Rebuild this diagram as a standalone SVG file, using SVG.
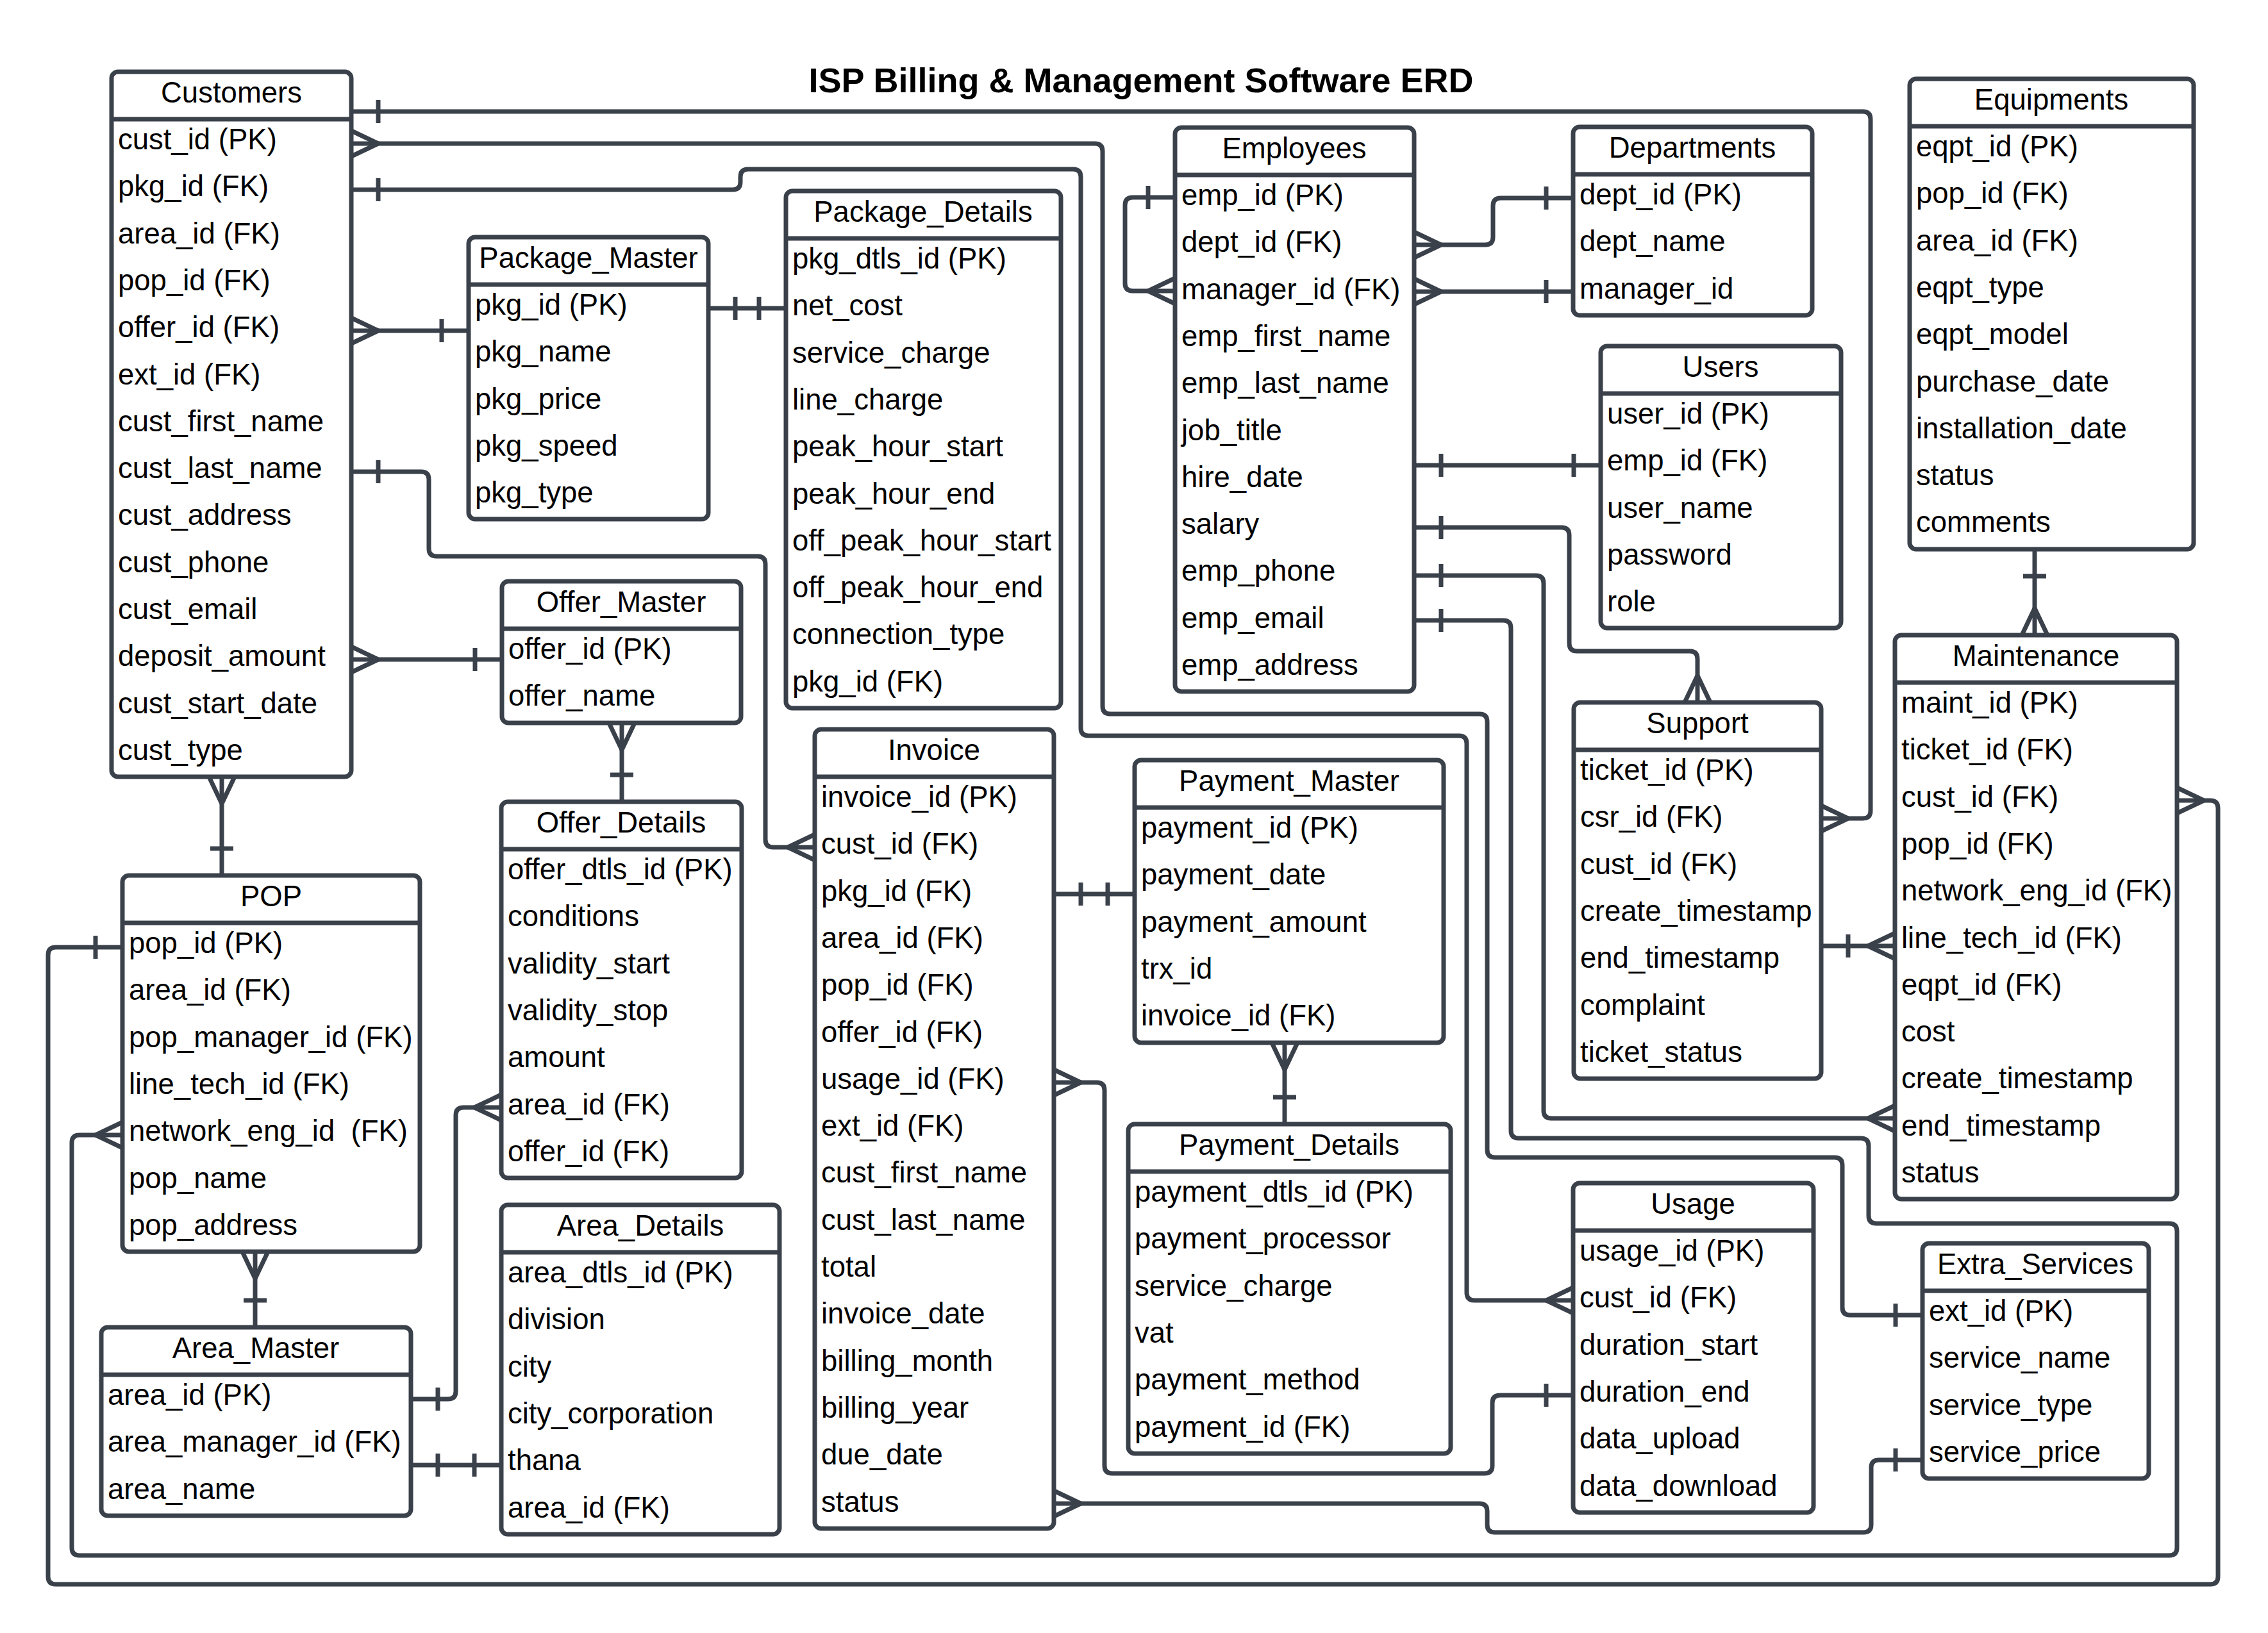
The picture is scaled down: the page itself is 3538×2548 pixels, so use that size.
<svg xmlns="http://www.w3.org/2000/svg" width="3538" height="2548" viewBox="0 0 3538 2548">
<style>
.box{fill:#fff;stroke:#3a414a;stroke-width:7}
.dv{stroke:#3a414a;stroke-width:7}
.ln{fill:none;stroke:#3a414a;stroke-width:7;stroke-linejoin:round}
.cf{marker-start:url(#many)}
.co{marker-start:url(#one)}
.ef{marker-end:url(#many)}
.eo{marker-end:url(#one)}
text{font-family:"Liberation Sans",Arial,sans-serif;font-size:45.5px;fill:#000}
.hd{text-anchor:middle}
.title{font-weight:bold;font-size:54px;text-anchor:middle}
</style>
<defs>
<marker id="many" viewBox="-60 -30 70 60" refX="0" refY="0" markerWidth="70" markerHeight="60" markerUnits="userSpaceOnUse" orient="auto-start-reverse" overflow="visible">
<path d="M0,-20 L-42,0 M0,20 L-42,0" fill="none" stroke="#3a414a" stroke-width="7"/>
</marker>
<marker id="one" viewBox="-60 -30 70 60" refX="0" refY="0" markerWidth="70" markerHeight="60" markerUnits="userSpaceOnUse" orient="auto-start-reverse" overflow="visible">
<path d="M-42,-18 V18" fill="none" stroke="#3a414a" stroke-width="7"/>
</marker>
</defs>
<rect x="0" y="0" width="3538" height="2548" fill="#fff"/>
<text class="title" x="1780" y="144">ISP Billing &amp; Management Software ERD</text>

<g id="connectors">
<path class="ln co ef" d="M548,174 H2906 Q2918,174 2918,186 V1265 Q2918,1277 2906,1277 H2841"/>
<path class="ln cf eo" d="M548,224 H1708 Q1720,224 1720,236 V1102 Q1720,1114 1732,1114 H2308 Q2320,1114 2320,1126 V1794 Q2320,1806 2332,1806 H2862 Q2874,1806 2874,1818 V2040 Q2874,2052 2886,2052 H2999"/>
<path class="ln co ef" d="M548,296 H1143 Q1155,296 1155,284 V276 Q1155,264 1167,264 H1674 Q1686,264 1686,276 V1136 Q1686,1148 1698,1148 H2276 Q2288,1148 2288,1160 V2017 Q2288,2029 2300,2029 H2454"/>
<path class="ln cf eo" d="M548,516 H731"/>
<path class="ln co ef" d="M548,736 H657 Q669,736 669,748 V856 Q669,868 681,868 H1182 Q1194,868 1194,880 V1310 Q1194,1322 1206,1322 H1271"/>
<path class="ln cf eo" d="M548,1029 H783"/>
<path class="ln cf eo" d="M970,1128 V1251"/>
<path class="ln cf eo" d="M346,1212 V1366"/>
<path class="ln cf eo" d="M398,1953 V2071"/>
<path class="ln co ef" d="M641,2183 H699 Q711,2183 711,2171 V1740 Q711,1728 723,1728 H782"/>
<path class="ln co eo" d="M641,2286 H782"/>
<path class="ln co eo" d="M1105,481 H1226"/>
<path class="ln co ef" d="M1833,308 H1767 Q1755,308 1755,320 V442 Q1755,454 1767,454 H1833"/>
<path class="ln cf eo" d="M2206,382 H2317 Q2329,382 2329,370 V321 Q2329,309 2341,309 H2454"/>
<path class="ln cf eo" d="M2206,455 H2454"/>
<path class="ln co eo" d="M2206,726 H2497"/>
<path class="ln co ef" d="M2206,823 H2436 Q2448,823 2448,835 V1004 Q2448,1016 2460,1016 H2636 Q2648,1016 2648,1028 V1096"/>
<path class="ln co ef" d="M2206,898 H2396 Q2408,898 2408,910 V1733 Q2408,1745 2420,1745 H2956"/>
<path class="ln co ef" d="M2206,968 H2345 Q2357,968 2357,980 V1764 Q2357,1776 2369,1776 H2903 Q2915,1776 2915,1788 V1897 Q2915,1909 2927,1909 H3384 Q3396,1909 3396,1921 V2415 Q3396,2427 3384,2427 H124 Q112,2427 112,2415 V1783 Q112,1771 124,1771 H191"/>
<path class="ln cf eo" d="M3396,1249 H3448 Q3460,1249 3460,1261 V2460 Q3460,2472 3448,2472 H87 Q75,2472 75,2460 V1490 Q75,1478 87,1478 H191"/>
<path class="ln co ef" d="M3174,857 V991"/>
<path class="ln co ef" d="M2841,1476 H2956"/>
<path class="ln co eo" d="M1644,1395 H1770"/>
<path class="ln cf eo" d="M2004,1627 V1754"/>
<path class="ln cf eo" d="M1644,1689 H1711 Q1723,1689 1723,1701 V2287 Q1723,2299 1735,2299 H2316 Q2328,2299 2328,2287 V2189 Q2328,2177 2340,2177 H2454"/>
<path class="ln cf eo" d="M1644,2346 H2308 Q2320,2346 2320,2358 V2379 Q2320,2391 2332,2391 H2907 Q2919,2391 2919,2379 V2290 Q2919,2278 2931,2278 H2999"/>
</g>

<g id="customers">
<rect class="box" x="174" y="112" width="374" height="1100" rx="10"/>
<line class="dv" x1="174" y1="186" x2="548" y2="186"/>
<text class="hd" x="361" y="160">Customers</text>
<text x="184" y="233">cust_id (PK)</text>
<text x="184" y="306">pkg_id (FK)</text>
<text x="184" y="380">area_id (FK)</text>
<text x="184" y="453">pop_id (FK)</text>
<text x="184" y="526">offer_id (FK)</text>
<text x="184" y="600">ext_id (FK)</text>
<text x="184" y="673">cust_first_name</text>
<text x="184" y="746">cust_last_name</text>
<text x="184" y="819">cust_address</text>
<text x="184" y="893">cust_phone</text>
<text x="184" y="966">cust_email</text>
<text x="184" y="1039">deposit_amount</text>
<text x="184" y="1113">cust_start_date</text>
<text x="184" y="1186">cust_type</text>
</g>

<g id="package_master">
<rect class="box" x="731" y="370" width="374" height="440" rx="10"/>
<line class="dv" x1="731" y1="444" x2="1105" y2="444"/>
<text class="hd" x="918" y="418">Package_Master</text>
<text x="741" y="491">pkg_id (PK)</text>
<text x="741" y="564">pkg_name</text>
<text x="741" y="638">pkg_price</text>
<text x="741" y="711">pkg_speed</text>
<text x="741" y="784">pkg_type</text>
</g>

<g id="package_details">
<rect class="box" x="1226" y="298" width="429" height="807" rx="10"/>
<line class="dv" x1="1226" y1="372" x2="1655" y2="372"/>
<text class="hd" x="1440" y="346">Package_Details</text>
<text x="1236" y="419">pkg_dtls_id (PK)</text>
<text x="1236" y="492">net_cost</text>
<text x="1236" y="566">service_charge</text>
<text x="1236" y="639">line_charge</text>
<text x="1236" y="712">peak_hour_start</text>
<text x="1236" y="786">peak_hour_end</text>
<text x="1236" y="859">off_peak_hour_start</text>
<text x="1236" y="932">off_peak_hour_end</text>
<text x="1236" y="1005">connection_type</text>
<text x="1236" y="1079">pkg_id (FK)</text>
</g>

<g id="employees">
<rect class="box" x="1833" y="199" width="373" height="880" rx="10"/>
<line class="dv" x1="1833" y1="273" x2="2206" y2="273"/>
<text class="hd" x="2019" y="247">Employees</text>
<text x="1843" y="320">emp_id (PK)</text>
<text x="1843" y="393">dept_id (FK)</text>
<text x="1843" y="467">manager_id (FK)</text>
<text x="1843" y="540">emp_first_name</text>
<text x="1843" y="613">emp_last_name</text>
<text x="1843" y="687">job_title</text>
<text x="1843" y="760">hire_date</text>
<text x="1843" y="833">salary</text>
<text x="1843" y="906">emp_phone</text>
<text x="1843" y="980">emp_email</text>
<text x="1843" y="1053">emp_address</text>
</g>

<g id="departments">
<rect class="box" x="2454" y="198" width="373" height="294" rx="10"/>
<line class="dv" x1="2454" y1="272" x2="2827" y2="272"/>
<text class="hd" x="2640" y="246">Departments</text>
<text x="2464" y="319">dept_id (PK)</text>
<text x="2464" y="392">dept_name</text>
<text x="2464" y="466">manager_id</text>
</g>

<g id="users">
<rect class="box" x="2497" y="540" width="375" height="440" rx="10"/>
<line class="dv" x1="2497" y1="614" x2="2872" y2="614"/>
<text class="hd" x="2684" y="588">Users</text>
<text x="2507" y="661">user_id (PK)</text>
<text x="2507" y="734">emp_id (FK)</text>
<text x="2507" y="808">user_name</text>
<text x="2507" y="881">password</text>
<text x="2507" y="954">role</text>
</g>

<g id="equipments">
<rect class="box" x="2979" y="123" width="443" height="734" rx="10"/>
<line class="dv" x1="2979" y1="197" x2="3422" y2="197"/>
<text class="hd" x="3200" y="171">Equipments</text>
<text x="2989" y="244">eqpt_id (PK)</text>
<text x="2989" y="317">pop_id (FK)</text>
<text x="2989" y="391">area_id (FK)</text>
<text x="2989" y="464">eqpt_type</text>
<text x="2989" y="537">eqpt_model</text>
<text x="2989" y="611">purchase_date</text>
<text x="2989" y="684">installation_date</text>
<text x="2989" y="757">status</text>
<text x="2989" y="830">comments</text>
</g>

<g id="maintenance">
<rect class="box" x="2956" y="991" width="440" height="880" rx="10"/>
<line class="dv" x1="2956" y1="1065" x2="3396" y2="1065"/>
<text class="hd" x="3176" y="1039">Maintenance</text>
<text x="2966" y="1112">maint_id (PK)</text>
<text x="2966" y="1185">ticket_id (FK)</text>
<text x="2966" y="1259">cust_id (FK)</text>
<text x="2966" y="1332">pop_id (FK)</text>
<text x="2966" y="1405">network_eng_id (FK)</text>
<text x="2966" y="1479">line_tech_id (FK)</text>
<text x="2966" y="1552">eqpt_id (FK)</text>
<text x="2966" y="1625">cost</text>
<text x="2966" y="1698">create_timestamp</text>
<text x="2966" y="1772">end_timestamp</text>
<text x="2966" y="1845">status</text>
</g>

<g id="support">
<rect class="box" x="2455" y="1096" width="386" height="587" rx="10"/>
<line class="dv" x1="2455" y1="1170" x2="2841" y2="1170"/>
<text class="hd" x="2648" y="1144">Support</text>
<text x="2465" y="1217">ticket_id (PK)</text>
<text x="2465" y="1290">csr_id (FK)</text>
<text x="2465" y="1364">cust_id (FK)</text>
<text x="2465" y="1437">create_timestamp</text>
<text x="2465" y="1510">end_timestamp</text>
<text x="2465" y="1584">complaint</text>
<text x="2465" y="1657">ticket_status</text>
</g>

<g id="offer_master">
<rect class="box" x="783" y="907" width="373" height="221" rx="10"/>
<line class="dv" x1="783" y1="981" x2="1156" y2="981"/>
<text class="hd" x="969" y="955">Offer_Master</text>
<text x="793" y="1028">offer_id (PK)</text>
<text x="793" y="1101">offer_name</text>
</g>

<g id="offer_details">
<rect class="box" x="782" y="1251" width="375" height="587" rx="10"/>
<line class="dv" x1="782" y1="1325" x2="1157" y2="1325"/>
<text class="hd" x="969" y="1299">Offer_Details</text>
<text x="792" y="1372">offer_dtls_id (PK)</text>
<text x="792" y="1445">conditions</text>
<text x="792" y="1519">validity_start</text>
<text x="792" y="1592">validity_stop</text>
<text x="792" y="1665">amount</text>
<text x="792" y="1739">area_id (FK)</text>
<text x="792" y="1812">offer_id (FK)</text>
</g>

<g id="pop">
<rect class="box" x="191" y="1366" width="464" height="587" rx="10"/>
<line class="dv" x1="191" y1="1440" x2="655" y2="1440"/>
<text class="hd" x="423" y="1414">POP</text>
<text x="201" y="1487">pop_id (PK)</text>
<text x="201" y="1560">area_id (FK)</text>
<text x="201" y="1634">pop_manager_id (FK)</text>
<text x="201" y="1707">line_tech_id (FK)</text>
<text x="201" y="1780" xml:space="preserve">network_eng_id  (FK)</text>
<text x="201" y="1854">pop_name</text>
<text x="201" y="1927">pop_address</text>
</g>

<g id="area_master">
<rect class="box" x="158" y="2071" width="483" height="294" rx="10"/>
<line class="dv" x1="158" y1="2145" x2="641" y2="2145"/>
<text class="hd" x="399" y="2119">Area_Master</text>
<text x="168" y="2192">area_id (PK)</text>
<text x="168" y="2265">area_manager_id (FK)</text>
<text x="168" y="2339">area_name</text>
</g>

<g id="area_details">
<rect class="box" x="782" y="1880" width="434" height="514" rx="10"/>
<line class="dv" x1="782" y1="1954" x2="1216" y2="1954"/>
<text class="hd" x="999" y="1928">Area_Details</text>
<text x="792" y="2001">area_dtls_id (PK)</text>
<text x="792" y="2074">division</text>
<text x="792" y="2148">city</text>
<text x="792" y="2221">city_corporation</text>
<text x="792" y="2294">thana</text>
<text x="792" y="2368">area_id (FK)</text>
</g>

<g id="invoice">
<rect class="box" x="1271" y="1138" width="373" height="1247" rx="10"/>
<line class="dv" x1="1271" y1="1212" x2="1644" y2="1212"/>
<text class="hd" x="1457" y="1186">Invoice</text>
<text x="1281" y="1259">invoice_id (PK)</text>
<text x="1281" y="1332">cust_id (FK)</text>
<text x="1281" y="1406">pkg_id (FK)</text>
<text x="1281" y="1479">area_id (FK)</text>
<text x="1281" y="1552">pop_id (FK)</text>
<text x="1281" y="1626">offer_id (FK)</text>
<text x="1281" y="1699">usage_id (FK)</text>
<text x="1281" y="1772">ext_id (FK)</text>
<text x="1281" y="1845">cust_first_name</text>
<text x="1281" y="1919">cust_last_name</text>
<text x="1281" y="1992">total</text>
<text x="1281" y="2065">invoice_date</text>
<text x="1281" y="2139">billing_month</text>
<text x="1281" y="2212">billing_year</text>
<text x="1281" y="2285">due_date</text>
<text x="1281" y="2359">status</text>
</g>

<g id="payment_master">
<rect class="box" x="1770" y="1186" width="482" height="441" rx="10"/>
<line class="dv" x1="1770" y1="1260" x2="2252" y2="1260"/>
<text class="hd" x="2011" y="1234">Payment_Master</text>
<text x="1780" y="1307">payment_id (PK)</text>
<text x="1780" y="1380">payment_date</text>
<text x="1780" y="1454">payment_amount</text>
<text x="1780" y="1527">trx_id</text>
<text x="1780" y="1600">invoice_id (FK)</text>
</g>

<g id="payment_details">
<rect class="box" x="1760" y="1754" width="503" height="514" rx="10"/>
<line class="dv" x1="1760" y1="1828" x2="2263" y2="1828"/>
<text class="hd" x="2011" y="1802">Payment_Details</text>
<text x="1770" y="1875">payment_dtls_id (PK)</text>
<text x="1770" y="1948">payment_processor</text>
<text x="1770" y="2022">service_charge</text>
<text x="1770" y="2095">vat</text>
<text x="1770" y="2168">payment_method</text>
<text x="1770" y="2242">payment_id (FK)</text>
</g>

<g id="usage">
<rect class="box" x="2454" y="1846" width="375" height="514" rx="10"/>
<line class="dv" x1="2454" y1="1920" x2="2829" y2="1920"/>
<text class="hd" x="2641" y="1894">Usage</text>
<text x="2464" y="1967">usage_id (PK)</text>
<text x="2464" y="2040">cust_id (FK)</text>
<text x="2464" y="2114">duration_start</text>
<text x="2464" y="2187">duration_end</text>
<text x="2464" y="2260">data_upload</text>
<text x="2464" y="2334">data_download</text>
</g>

<g id="extra_services">
<rect class="box" x="2999" y="1940" width="353" height="367" rx="10"/>
<line class="dv" x1="2999" y1="2014" x2="3352" y2="2014"/>
<text class="hd" x="3175" y="1988">Extra_Services</text>
<text x="3009" y="2061">ext_id (PK)</text>
<text x="3009" y="2134">service_name</text>
<text x="3009" y="2208">service_type</text>
<text x="3009" y="2281">service_price</text>
</g>
</svg>
